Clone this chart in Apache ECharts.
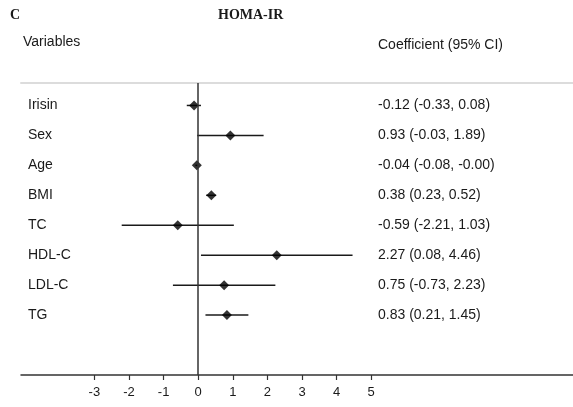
<!DOCTYPE html>
<html>
<head>
<meta charset="utf-8">
<script src="https://cdn.jsdelivr.net/npm/echarts@6/dist/echarts.min.js"></script>
<style>
  html, body { margin: 0; padding: 0; background: #fff; }
  #chart { width: 573px; height: 407px; }
</style>
</head>
<body>
<div id="chart"></div>
<script>
const variables = ['Irisin', 'Sex', 'Age', 'BMI', 'TC', 'HDL-C', 'LDL-C', 'TG'];
const estimates = [-0.12, 0.93, -0.04, 0.38, -0.59, 2.27, 0.75, 0.83];
const lower = [-0.33, -0.03, -0.08, 0.23, -2.21, 0.08, -0.73, 0.21];
const upper = [0.08, 1.89, -0.00, 0.52, 1.03, 4.46, 2.23, 1.45];
const coefText = [
  '-0.12 (-0.33, 0.08)',
  '0.93 (-0.03, 1.89)',
  '-0.04 (-0.08, -0.00)',
  '0.38 (0.23, 0.52)',
  '-0.59 (-2.21, 1.03)',
  '2.27 (0.08, 4.46)',
  '0.75 (-0.73, 2.23)',
  '0.83 (0.21, 1.45)'
];
const xTicks = [-3, -2, -1, 0, 1, 2, 3, 4, 5];

const sans = '"Liberation Sans", Arial, sans-serif';
const ink = '#1a1a1a';

const ciData = variables.map((v, i) => [lower[i], i + 1, upper[i]]);
const pointData = variables.map((v, i) => [estimates[i], i + 1]);

const chart = echarts.init(document.getElementById('chart'));

chart.setOption({
  animation: false,
  backgroundColor: '#fff',
  grid: { left: 21, right: 0, top: 83, bottom: 32 },
  graphic: [
    { type: 'text', left: 10, top: 8, style: { text: 'C', font: 'bold 14px "Liberation Serif", serif', fill: ink } },
    { type: 'text', left: 218, top: 8, style: { text: 'HOMA-IR', font: 'bold 14px "Liberation Serif", serif', fill: ink } },
    { type: 'text', left: 23, top: 35, style: { text: 'Variables', font: '14px ' + sans, fill: ink } },
    { type: 'text', left: 378, top: 38, style: { text: 'Coefficient (95% CI)', font: '14px ' + sans, fill: ink } }
  ],
  xAxis: [
    {
      type: 'value',
      min: -5.12,
      max: 10.83,
      position: 'bottom',
      splitLine: { show: false },
      axisLine: { lineStyle: { color: '#333', width: 1.5 } },
      axisTick: { customValues: xTicks, length: 5, lineStyle: { color: '#333', width: 1.2 } },
      axisLabel: { customValues: xTicks, margin: 11, fontSize: 13, fontFamily: sans, color: ink }
    },
    {
      type: 'value',
      min: -5.12,
      max: 10.83,
      position: 'top',
      splitLine: { show: false },
      axisLine: { lineStyle: { color: '#dcdcdc', width: 2 } },
      axisTick: { show: false },
      axisLabel: { show: false }
    }
  ],
  yAxis: {
    type: 'value',
    min: 0.25,
    max: 10,
    inverse: true,
    show: false
  },
  series: [
    {
      type: 'custom',
      data: ciData,
      encode: { x: [0, 2], y: 1 },
      z: 2,
      renderItem(params, api) {
        const i = params.dataIndex;
        const p1 = api.coord([api.value(0), api.value(1)]);
        const p2 = api.coord([api.value(2), api.value(1)]);
        const y = p1[1];
        return {
          type: 'group',
          children: [
            {
              type: 'line',
              shape: { x1: p1[0], y1: y, x2: p2[0], y2: y },
              style: { stroke: ink, lineWidth: 1.5 }
            },
            {
              type: 'text',
              x: 28,
              y: y,
              style: { text: variables[i], font: '14px ' + sans, fill: ink, verticalAlign: 'middle', align: 'left' }
            },
            {
              type: 'text',
              x: 378,
              y: y,
              style: { text: coefText[i], font: '14px ' + sans, fill: ink, verticalAlign: 'middle', align: 'left' }
            }
          ]
        };
      }
    },
    {
      type: 'scatter',
      data: pointData,
      symbol: 'diamond',
      symbolSize: 10,
      z: 3,
      itemStyle: { color: '#000' },
      markLine: {
        silent: true,
        symbol: 'none',
        label: { show: false },
        lineStyle: { color: '#333', width: 1.5, type: 'solid' },
        data: [{ xAxis: 0 }]
      }
    }
  ]
});
</script>
</body>
</html>
